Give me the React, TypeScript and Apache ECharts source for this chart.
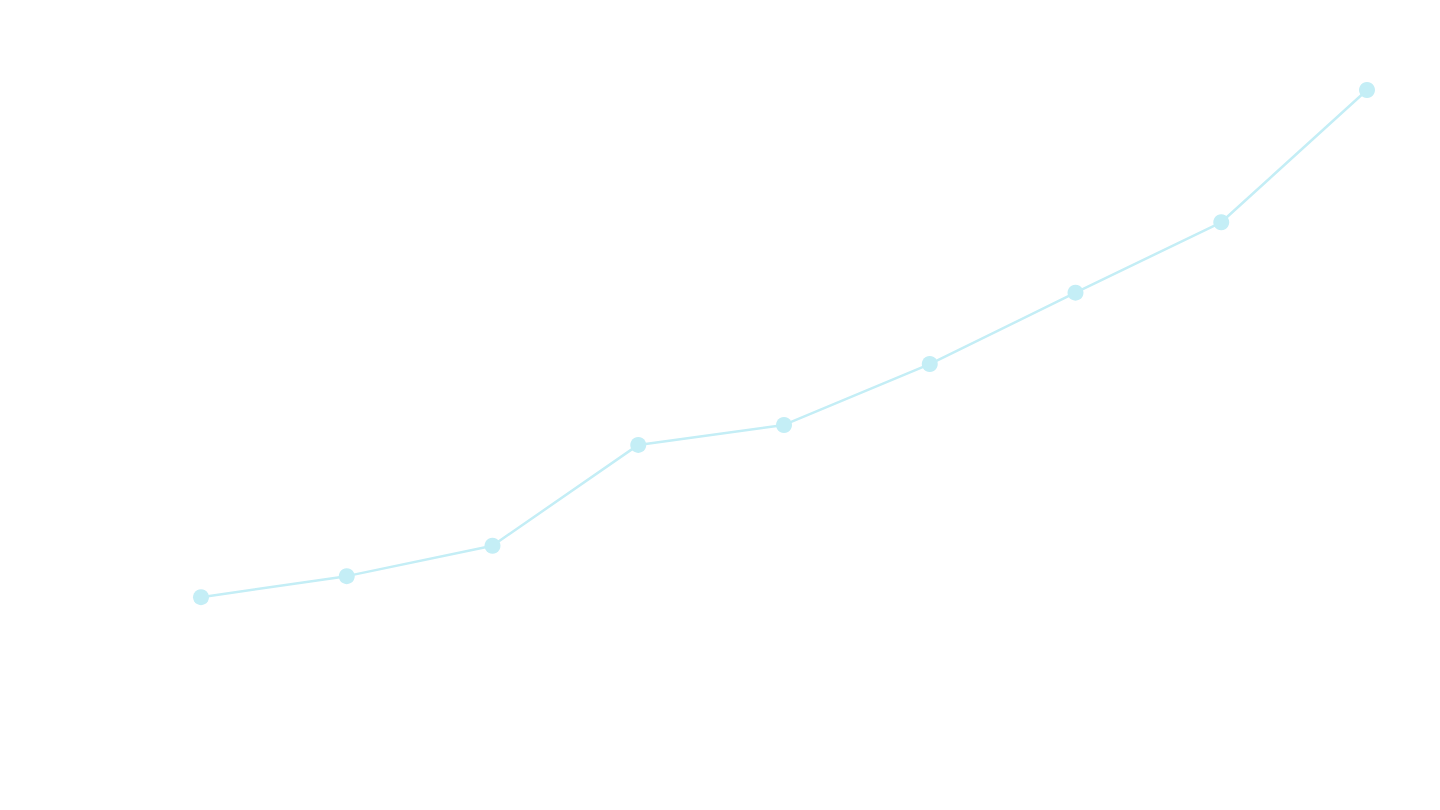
import React, { useEffect, useRef } from "react";
import * as echarts from "echarts";

const categories = ["1", "2", "3", "4", "5", "6", "7", "8", "9"];
const values = [117, 137, 166, 262, 281, 339, 407, 474, 600];

export default function App() {
  const ref = useRef<HTMLDivElement>(null);
  useEffect(() => {
    if (!ref.current) return;
    const chart = echarts.init(ref.current, undefined, { renderer: "svg" });
    chart.setOption({
      animation: false,
      backgroundColor: "#ffffff",
      grid: { left: 201, right: 73, top: 90, bottom: 90 },
      xAxis: {
        type: "category",
        data: categories,
        boundaryGap: false,
        show: false,
      },
      yAxis: {
        type: "value",
        min: 0,
        max: 600,
        show: false,
        splitLine: { show: false },
      },
      series: [
        {
          type: "line",
          data: values,
          symbol: "circle",
          symbolSize: 16,
          showSymbol: true,
          itemStyle: { color: "#c4eef6" },
          lineStyle: { color: "#c4eef6", width: 2.5 },
        },
      ],
    });
    return () => chart.dispose();
  }, []);
  return (
    <div
      ref={ref}
      style={{ position: "absolute", left: 0, top: 0, width: 1440, height: 810 }}
    />
  );
}
